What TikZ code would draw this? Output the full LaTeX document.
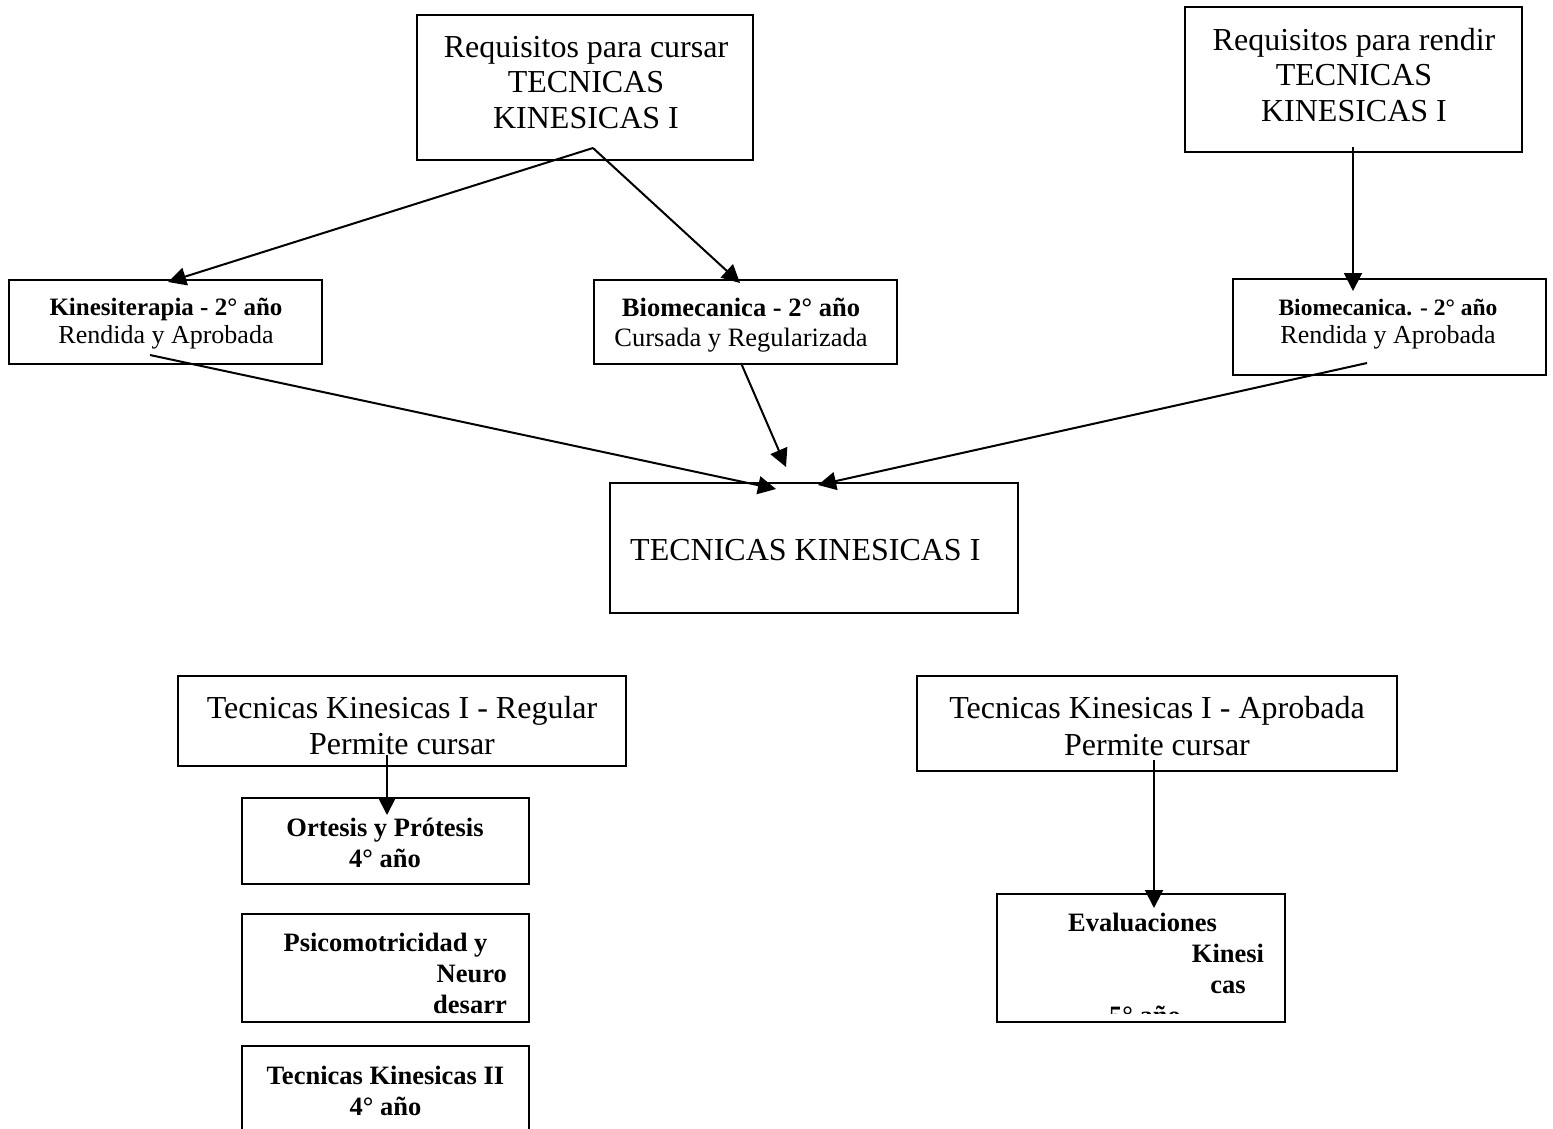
\documentclass[tikz,border=0pt]{standalone}
\usepackage{fontspec}
\setmainfont{Liberation Serif}
\usetikzlibrary{arrows.meta}
\tikzset{
  box/.style={draw=black, line width=1.5pt, inner sep=0pt, outer sep=0pt},
  bigtxt/.style={font=\fontsize{32}{35.5}\selectfont, inner sep=0pt, align=center, anchor=base},
  midtxt/.style={font=\fontsize{26.5}{30}\selectfont, inner sep=0pt, align=center, anchor=base},
  boldtxt/.style={font=\bfseries\fontsize{26.5}{31}\selectfont, inner sep=0pt, align=center, anchor=base},
  conn/.style={line width=2pt, -{Triangle[length=18pt,width=18pt]}},
}
\begin{document}
\begin{tikzpicture}[x=1pt,y=-1pt]
\useasboundingbox (0,0) rectangle (1553,1128);
\fill[white] (0,0) rectangle (1553,1128);

% boxes
\node[box, minimum width=336pt, minimum height=145pt] (rc) at (585,87.5) {};
\node[box, minimum width=337pt, minimum height=145pt] (rr) at (1353.5,79.5) {};
\node[box, minimum width=313pt, minimum height=84pt] (kin) at (165.5,322) {};
\node[box, minimum width=303pt, minimum height=84pt] (bio) at (745.5,322) {};
\node[box, minimum width=313pt, minimum height=96pt] (bior) at (1389.5,327) {};
\node[box, minimum width=408pt, minimum height=130pt] (tk) at (814,548) {};
\node[box, minimum width=448pt, minimum height=90pt] (reg) at (402,721) {};
\node[box, minimum width=480pt, minimum height=95pt] (apr) at (1157,723.5) {};
\node[box, minimum width=287pt, minimum height=86pt] (ort) at (385.5,841) {};
\node[box, minimum width=287pt, minimum height=108pt] (psi) at (385.5,968) {};
\node[box, minimum width=287pt, minimum height=104pt] (tkii) at (385.5,1098) {};
\node[box, minimum width=288pt, minimum height=128pt] (eva) at (1141,958) {};

% texts (base = baseline of the last line)
\node[bigtxt] (rct) at (586,128) {Requisitos para cursar\\TECNICAS\\KINESICAS I};
\node[bigtxt] (rrt) at (1354,121) {Requisitos para rendir\\TECNICAS\\KINESICAS I};
\node[midtxt, font=\fontsize{26}{28}\selectfont] (kint) at (166,343)
  {{\bfseries\fontsize{25}{28}\selectfont Kinesiterapia - 2° año}\\Rendida y Aprobada};
\node[midtxt] (biot) at (741,346)
  {{\bfseries Biomecanica - 2° año}\\Cursada y Regularizada};
\node[midtxt, font=\fontsize{26}{28}\selectfont] (biort) at (1388,343)
  {{\bfseries\fontsize{23.5}{28}\selectfont Biomecanica. - 2° año}\\Rendida y Aprobada};
\node[bigtxt, anchor=base west] (tkt) at (630,560) {TECNICAS KINESICAS I};
\node[bigtxt, font=\fontsize{32}{36}\selectfont] (regt) at (402,754) {Tecnicas Kinesicas I - Regular\\Permite cursar};
\node[bigtxt, font=\fontsize{32}{37}\selectfont] (aprt) at (1157,755) {Tecnicas Kinesicas I - Aprobada\\Permite cursar};
\node[boldtxt] (ortt) at (385,867) {Ortesis y Prótesis\\4° año};
\node[boldtxt] (psi1) at (385.5,951) {Psicomotricidad y};
\node[boldtxt, anchor=base east] (psi2) at (507,982) {Neuro};
\node[boldtxt, anchor=base east] (psi3) at (507,1013) {desarr};
\node[boldtxt] (tkiit) at (385.5,1115) {Tecnicas Kinesicas II\\4° año};
\begin{scope}
  \clip (997,894) rectangle (1285,1013);
  \node[boldtxt] (eva1) at (1142.5,931) {Evaluaciones};
  \node[boldtxt] (eva2) at (1228,962) {Kinesi};
  \node[boldtxt] (eva3) at (1228,993) {cas};
  \node[boldtxt] (eva4) at (1145,1024) {5° año};
\end{scope}

% connector end points
\coordinate (rcs) at (593,148);
\coordinate (kinn) at (168,282);
\coordinate (bion) at (740,283);
\coordinate (rrs) at (1353,147);
\coordinate (biorn) at (1353,291);
\coordinate (kins) at (150,355);
\coordinate (tkn1) at (776,489);
\coordinate (bios) at (741,363);
\coordinate (tkn2) at (786,467);
\coordinate (biors) at (1367,363);
\coordinate (tkn3) at (818,485);
\coordinate (regs) at (387,755);
\coordinate (ortn) at (387,815);
\coordinate (aprs) at (1154,760);
\coordinate (evan) at (1154,908);

\draw[conn] (rcs) -- (kinn);
\draw[conn] (rcs) -- (bion);
\draw[conn] (rrs) -- (biorn);
\draw[conn] (kins) -- (tkn1);
\draw[conn] (bios) -- (tkn2);
\draw[conn] (biors) -- (tkn3);
\draw[conn] (regs) -- (ortn);
\draw[conn] (aprs) -- (evan);
\end{tikzpicture}
\end{document}
